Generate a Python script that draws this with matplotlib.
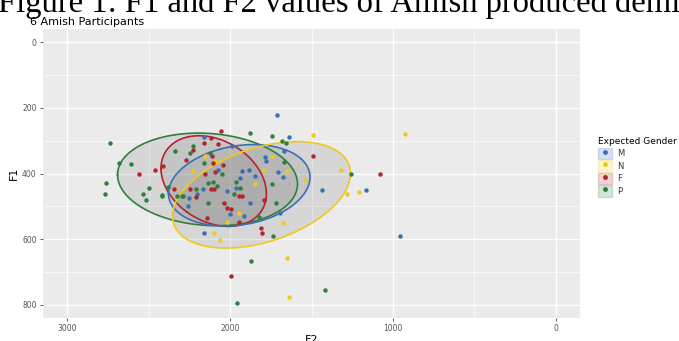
import numpy as np
import matplotlib
matplotlib.use("Agg")
import matplotlib.pyplot as plt
from matplotlib.patches import Patch
from matplotlib.lines import Line2D
from matplotlib.legend_handler import HandlerTuple

# F2 / F1 values per expected gender
groups = ["M", "N", "F", "P"]
colors = {"M": "#3a6fb7", "N": "#eccb1c", "F": "#b5232f", "P": "#2f7f3b"}

m_f2 = [1713, 2162, 1639, 1986, 1666, 1787, 1778, 1705, 1674, 1434, 1166, 2073, 1930, 1885,
        1941, 1848, 2166, 2022, 1965, 2203, 2250, 2258, 1877, 2002, 1914, 1695, 2162, 957]
m_f1 = [221, 290, 288, 315, 330, 350, 361, 394, 410, 450, 449, 388, 392, 389,
        415, 407, 446, 454, 444, 461, 476, 499, 489, 522, 529, 519, 582, 590]

n_f2 = [1489, 1742, 1789, 1650, 1541, 1320, 1281, 1211, 1846, 2230, 2096, 2156, 1944, 2022,
        1674, 2101, 2064, 2336, 1652, 1640, 924]
n_f1 = [284, 348, 388, 391, 420, 390, 463, 455, 432, 393, 361, 348, 520, 549,
        551, 580, 601, 448, 657, 775, 280]

f_f2 = [2059, 2117, 2162, 2076, 2270, 2410, 2461, 2110, 2104, 2045, 2096, 2152, 1492, 1080,
        2248, 2347, 2117, 2101, 1944, 1930, 2211, 2039, 2018, 1994, 1793, 2141, 1944, 1813,
        1803, 2562, 2230, 1994]
f_f1 = [270, 291, 308, 311, 360, 376, 389, 348, 368, 375, 395, 403, 346, 400,
        446, 446, 446, 448, 469, 469, 471, 489, 504, 509, 482, 534, 547, 566,
        582, 403, 327, 712]

p_f2 = [2740, 2680, 2607, 2336, 2227, 2248, 2765, 2771, 2535, 2500, 2514, 2416, 2383, 2324,
        2289, 2211, 1875, 1740, 1680, 1656, 2158, 2125, 2049, 2133, 2104, 1965, 1668, 1742,
        1939, 1979, 2080, 2293, 2418, 2135, 1721, 1824, 1260, 1738, 1869, 1959, 1420]
p_f1 = [307, 368, 370, 330, 315, 337, 429, 463, 461, 444, 482, 464, 440, 467,
        467, 448, 277, 287, 300, 307, 367, 337, 400, 428, 426, 427, 366, 433,
        444, 461, 438, 467, 467, 489, 489, 531, 400, 590, 667, 795, 754]

f2_vals = {"M": m_f2, "N": n_f2, "F": f_f2, "P": p_f2}
f1_vals = {"M": m_f1, "N": n_f1, "F": f_f1, "P": p_f1}

# 95% ellipses: centre F2, centre F1, half-width F2, half-height F1, phase coupling
ell_cx = {"M": 1944, "N": 1807, "F": 2101, "P": 2139}
ell_cy = {"M": 436, "N": 465, "F": 423, "P": 418}
ell_a = {"M": 435, "N": 547, "F": 324, "P": 553}
ell_b = {"M": 124, "N": 162, "F": 138, "P": 141}
ell_c = {"M": 0.2, "N": 0.4, "F": -0.28, "P": -0.1}

fig = plt.figure(figsize=(6.79, 3.41), dpi=100)
ax = fig.add_axes([43 / 679, 23 / 341, 537 / 679, 289 / 341])
ax.set_facecolor("#ebebeb")
for s in ax.spines.values():
    s.set_visible(False)

ax.set_xlim(3150, -150)
ax.set_ylim(840, -40)
ax.set_xticks([3000, 2000, 1000, 0])
ax.set_xticks([2500, 1500, 500], minor=True)
ax.set_yticks([0, 200, 400, 600, 800])
ax.set_yticks([100, 300, 500, 700], minor=True)
ax.grid(which="major", color="white", linewidth=1.0)
ax.grid(which="minor", color="white", linewidth=0.5)
ax.set_axisbelow(True)
ax.tick_params(which="major", length=2.5, width=0.6, color="#444444", labelsize=5.5,
               labelcolor="#555555", pad=2)
ax.tick_params(which="minor", length=0)

t = np.linspace(0, 2 * np.pi, 200)
for g in ["P", "F", "M", "N"]:
    d = np.arccos(ell_c[g])
    ex = ell_cx[g] + ell_a[g] * np.cos(t)
    ey = ell_cy[g] + ell_b[g] * np.cos(t - d)
    ax.fill(ex, ey, facecolor="#7a7a7a", alpha=0.18, edgecolor="none", zorder=2)
    ax.plot(ex, ey, color=colors[g], linewidth=1.2, zorder=3)

for g in groups:
    ax.plot(f2_vals[g], f1_vals[g], "o", color=colors[g], markersize=3.2,
            markeredgewidth=0, zorder=4)

ax.set_xlabel("F2", fontsize=8, labelpad=1)
ax.set_ylabel("F1", fontsize=8, labelpad=2)

handles = []
for g in groups:
    handles.append((Patch(facecolor=colors[g], alpha=0.2, edgecolor=colors[g], linewidth=1.0),
                    Line2D([], [], marker="o", linestyle="none", color=colors[g], markersize=2.5)))
fig.legend(handles, groups, handler_map={tuple: HandlerTuple(ndivide=1, pad=0)},
           loc="upper left", bbox_to_anchor=(590 / 679, 1 - 130 / 341), frameon=False,
           title="Expected Gender", title_fontsize=6.5, fontsize=6,
           handlelength=1.7, handleheight=1.7, handletextpad=0.6, labelspacing=0.15,
           alignment="left", labelcolor="#333333")

fig.text(30 / 679, 1 - 22 / 341, "6 Amish Participants", fontsize=8, va="center", ha="left")
fig.text(-2 / 679, 1 - 12 / 341, "Figure 1: F1 and F2 values of Amish produced demi",
         fontsize=23.5, family="Liberation Serif", va="baseline", ha="left")

fig.savefig("out.png", dpi=100)
